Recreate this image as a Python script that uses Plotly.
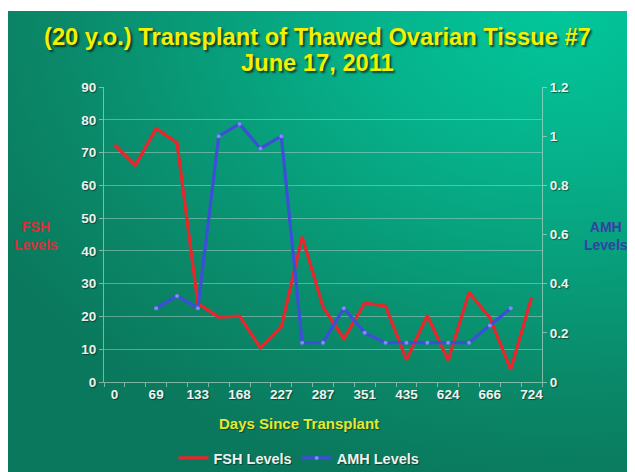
import plotly.graph_objects as go
import base64

# ---- data ----
day_labels = ["0", "69", "133", "168", "227", "287", "351", "435", "624", "666", "724"]
n_points = 21
fsh_levels = [72.4, 66.1, 77.3, 73.0, 23.9, 19.8, 20.1, 10.4, 16.8, 44.3, 22.9,
              13.2, 24.1, 23.1, 6.8, 20.3, 6.6, 27.3, 19.6, 3.8, 25.9]
amh_levels = [None, None, 0.30, 0.35, 0.30, 1.00, 1.05, 0.95, 1.00, 0.16, 0.16,
              0.30, 0.20, 0.16, 0.16, 0.16, 0.16, 0.16, 0.23, 0.30, None]

x_idx = list(range(n_points))
tick_pos = list(range(0, n_points, 2))

# page body has an 8px margin: figure origin sits at screen (8, 8)
OFF = 8
W, H = 627, 464
# plot area in screen pixels: x 104..542, y 87..382
ml, mr, mt, mb = 104 - OFF, W - (542 - OFF), 87 - OFF, H - (382 - OFF)
plot_h = H - mt - mb
plot_w = W - ml - mr


def px_x(x):
    return (x - OFF - ml) / plot_w


def px_y(y):
    return (H - mb - (y - OFF)) / plot_h


# ---- background gradient (SVG) ----
svg = """<svg xmlns='http://www.w3.org/2000/svg' width='627' height='461' viewBox='0 0 627 461' preserveAspectRatio='none'>
<defs><radialGradient id='g' cx='0.88' cy='0.0' r='1.05' fx='0.88' fy='0.0'>
<stop offset='0' stop-color='#02c79b'/>
<stop offset='0.35' stop-color='#06ae88'/>
<stop offset='0.75' stop-color='#0a8a6a'/>
<stop offset='1' stop-color='#0a785c'/>
</radialGradient></defs>
<rect width='627' height='461' fill='url(#g)'/></svg>"""
bg_src = "data:image/svg+xml;base64," + base64.b64encode(svg.encode()).decode()

fig = go.Figure()
fig.add_trace(go.Scatter(
    x=x_idx, y=fsh_levels, name="FSH Levels", mode="lines",
    line=dict(color="#e8262b", width=3.2), yaxis="y"))
fig.add_trace(go.Scatter(
    x=x_idx, y=amh_levels, name="AMH Levels", mode="lines+markers",
    line=dict(color="#3d4fd6", width=3.2),
    marker=dict(color="#7f8df0", size=4, line=dict(width=0)),
    yaxis="y2", connectgaps=False))

tickfont = dict(family="Liberation Sans, Arial", size=13.5, color="#eef2ee", weight="bold",
                shadow="1px 1px 1px rgba(0,0,0,0.45)")
axcol = "rgba(200,220,210,0.6)"

fig.update_layout(
    width=W, height=H,
    margin=dict(l=ml, r=mr, t=mt, b=mb, autoexpand=False),
    paper_bgcolor="white",
    plot_bgcolor="rgba(0,0,0,0)",
    showlegend=True,
    legend=dict(orientation="h", x=px_x(299), xanchor="center", y=px_y(458), yanchor="middle",
                font=dict(family="Liberation Sans, Arial", size=14.5, color="#eef2ee", weight="bold",
                          shadow="1px 1px 1px rgba(0,0,0,0.45)"),
                bgcolor="rgba(0,0,0,0)", itemwidth=30, tracegroupgap=0),
    xaxis=dict(range=[-0.5, n_points - 0.5], tickmode="array", tickvals=tick_pos,
               ticktext=day_labels, showgrid=False, zeroline=False,
               showline=True, linecolor=axcol, linewidth=1,
               ticks="outside", ticklen=0, tickfont=tickfont, fixedrange=True),
    yaxis=dict(range=[0, 90], dtick=10, showgrid=True,
               gridcolor="rgba(200,215,210,0.45)", gridwidth=1, zeroline=False,
               showline=True, linecolor=axcol, linewidth=1,
               ticks="outside", ticklen=4, tickcolor=axcol,
               tickfont=tickfont),
    yaxis2=dict(range=[0, 1.2], dtick=0.2, overlaying="y", side="right",
                showgrid=False, zeroline=False, showline=True,
                linecolor=axcol, linewidth=1,
                ticks="outside", ticklen=4, tickcolor=axcol,
                tickfont=tickfont, tickformat="~g"),
    images=[dict(source=bg_src, xref="paper", yref="paper",
                 x=px_x(8), y=px_y(11),
                 sizex=(W + OFF - 8) / plot_w, sizey=(H + OFF - 11) / plot_h,
                 xanchor="left", yanchor="top", sizing="stretch", layer="below")],
)

# minor x tick marks at each category boundary
fig.update_xaxes(minor=dict(tickmode="array", tickvals=[i - 0.5 for i in range(n_points + 1)],
                            ticks="outside", ticklen=4, tickcolor=axcol))

title_font = dict(family="Liberation Sans, Arial", size=23.7, color="#f4f000", weight="bold",
                  shadow="2px 2px 2px rgba(0,0,0,0.6)")

common = dict(xref="paper", yref="paper", showarrow=False, xanchor="center", yanchor="middle")
fig.add_annotation(text="(20 y.o.) Transplant of Thawed Ovarian Tissue #7", x=px_x(317), y=px_y(37),
                   font=title_font, **common)
fig.add_annotation(text="June 17, 2011", x=px_x(317), y=px_y(63), font=title_font, **common)
fig.add_annotation(text="Days Since Transplant", x=px_x(299), y=px_y(423),
                   font=dict(family="Liberation Sans, Arial", size=15, color="#e6e830", weight="bold",
                             shadow="1px 1px 1px rgba(0,0,0,0.4)"), **common)
fig.add_annotation(text="FSH<br>Levels", x=px_x(36), y=px_y(236),
                   font=dict(family="Liberation Sans, Arial", size=14, color="#e02a35", weight="bold"),
                   **common)
fig.add_annotation(text="AMH<br>Levels", x=px_x(606), y=px_y(236),
                   font=dict(family="Liberation Sans, Arial", size=14, color="#3340a8", weight="bold"),
                   **common)

fig.write_html("out.html")
